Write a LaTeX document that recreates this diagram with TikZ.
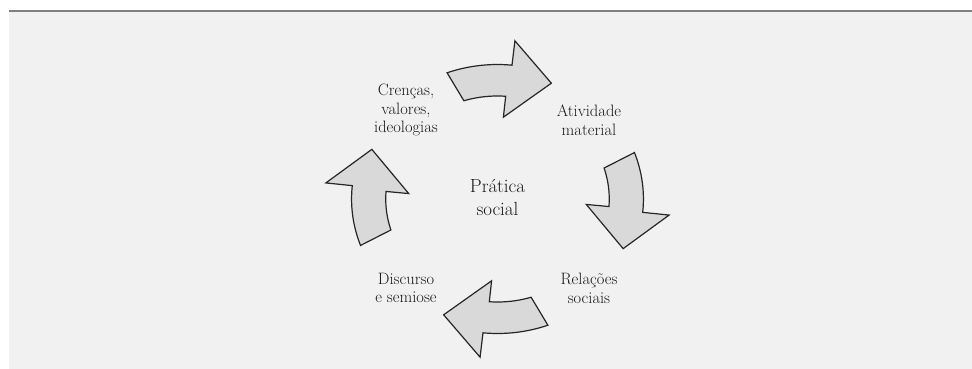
\documentclass[tikz,border=0pt]{standalone}
\definecolor{fundo}{HTML}{F1F1F1}
\definecolor{seta}{HTML}{D9D9D9}
\definecolor{filete}{HTML}{7F7F7F}
\tikzset{
  cyclearrow/.style={draw=black!85, fill=seta, line width=1.2pt, line join=miter},
  termo/.style={align=center, text=black!90, font=\fontsize{16.5}{18.7}\selectfont},
  centro/.style={align=center, text=black!90, font=\fontsize{19}{23}\selectfont}
}
\begin{document}
\begin{tikzpicture}[x=1pt, y=1pt]
      \useasboundingbox (-497.5,-170) rectangle (474.5,199);
      \fill[fundo] (-488.5,-170) rectangle (474.5,187.5);
      \draw[filete, line width=2pt] (-488.5,187.5) -- (474.5,187.5);
      \draw
        (0,2) node[centro] (pratica){Prática\\social}
        (-91.5,89) node[termo] (crencas){Crenças,\\valores,\\ideologias}
        (91.5,79) node[termo] (atividade){Atividade\\material}
        (91.5,-89) node[termo] (relacoes){Relações\\sociais}
        (-91.5,-89) node[termo] (discurso){Discurso\\e semiose};
      \begin{scope}[xscale=1.085]
        \draw[cyclearrow, rotate=0] (110.2:134.5) -- plot[domain=110.2:84.3, samples=24] (\x:134.5) -- (84.2:159) -- (66.8:126) -- (86.2:82) -- (85.8:103) -- plot[domain=85.8:107.5, samples=24] (\x:103) -- cycle;
        \draw[cyclearrow, rotate=-90] (110.2:134.5) -- plot[domain=110.2:84.3, samples=24] (\x:134.5) -- (84.2:159) -- (66.8:126) -- (86.2:82) -- (85.8:103) -- plot[domain=85.8:107.5, samples=24] (\x:103) -- cycle;
        \draw[cyclearrow, rotate=-180] (110.2:134.5) -- plot[domain=110.2:84.3, samples=24] (\x:134.5) -- (84.2:159) -- (66.8:126) -- (86.2:82) -- (85.8:103) -- plot[domain=85.8:107.5, samples=24] (\x:103) -- cycle;
        \draw[cyclearrow, rotate=-270] (110.2:134.5) -- plot[domain=110.2:84.3, samples=24] (\x:134.5) -- (84.2:159) -- (66.8:126) -- (86.2:82) -- (85.8:103) -- plot[domain=85.8:107.5, samples=24] (\x:103) -- cycle;
      \end{scope}
    \end{tikzpicture}
\end{document}
